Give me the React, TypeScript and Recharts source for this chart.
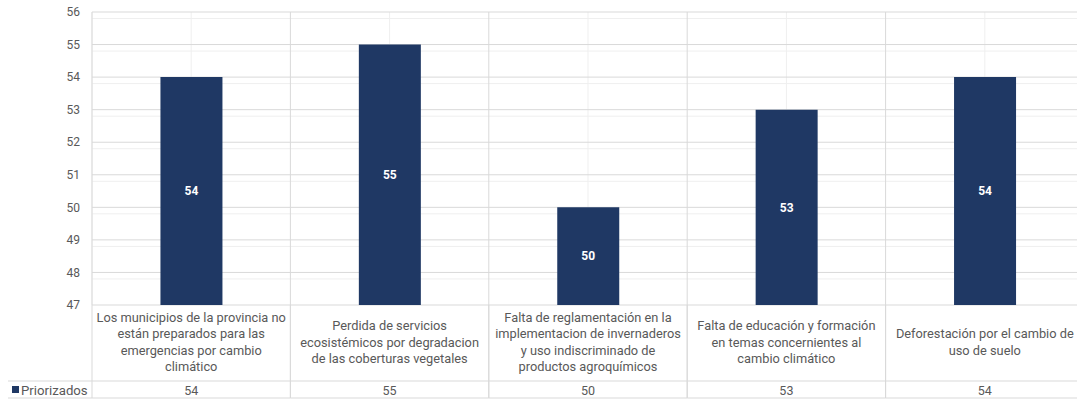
import React from "react";
import { BarChart, Bar, XAxis, YAxis, CartesianGrid, LabelList } from "recharts";

const categories = [
  "Los municipios de la provincia no están preparados para las emergencias por cambio climático",
  "Perdida de servicios ecosistémicos por degradacion de las coberturas vegetales",
  "Falta de reglamentación en la implementacion de invernaderos y uso indiscriminado de productos agroquímicos",
  "Falta de educación y formación en temas concernientes al cambio climático",
  "Deforestación por el cambio de uso de suelo",
];
const categoryLines = [
  ["Los municipios de la provincia no", "están preparados para las", "emergencias por cambio", "climático"],
  ["Perdida de servicios", "ecosistémicos por degradacion", "de las coberturas vegetales"],
  ["Falta de reglamentación en la", "implementacion de invernaderos", "y uso indiscriminado de", "productos agroquímicos"],
  ["Falta de educación y formación", "en temas concernientes al", "cambio climático"],
  ["Deforestación por el cambio de", "uso de suelo"],
];
const seriesName = "Priorizados";
const priorizados = [54, 55, 50, 53, 54];
const yTicks = [47, 48, 49, 50, 51, 52, 53, 54, 55, 56];
const minorTicks = [
  47.2, 47.4, 47.6, 47.8, 48.2, 48.4, 48.6, 48.8, 49.2, 49.4, 49.6, 49.8,
  50.2, 50.4, 50.6, 50.8, 51.2, 51.4, 51.6, 51.8, 52.2, 52.4, 52.6, 52.8,
  53.2, 53.4, 53.6, 53.8, 54.2, 54.4, 54.6, 54.8, 55.2, 55.4, 55.6, 55.8,
];

const data = categories.map((c, i) => ({ name: c, value: priorizados[i], idx: i }));

const FONT = "Roboto, 'Open Sans', sans-serif";
const TEXT = "#595959";
const BAR = "#1F3864";
const MAJOR = "#d9d9d9";
const MINOR = "#efefef";

const CHART_W = 1090;
const CHART_H = 401;
const MARGIN = { top: 12, right: 6, left: 0, bottom: 0 };
const Y_W = 92;
const X_H = 96;
const BAND = (CHART_W - MARGIN.left - MARGIN.right - Y_W) / categories.length;

const CategoryTick = (props: any) => {
  const { x, y, payload } = props;
  const i = payload.index;
  const lines = categoryLines[i];
  const lh = 16.5;
  const centerY = y + 37;
  const startY = centerY - ((lines.length - 1) * lh) / 2;
  const left = x - BAND / 2;
  const right = x + BAND / 2;
  const rowTop = y + 76;
  const rowBot = y + 93;
  return (
    <g>
      <line x1={left} y1={y} x2={left} y2={rowBot} stroke={MAJOR} />
      <line x1={right} y1={y} x2={right} y2={rowBot} stroke={MAJOR} />
      <line x1={left} y1={rowTop} x2={right} y2={rowTop} stroke={MAJOR} />
      <line x1={left} y1={rowBot} x2={right} y2={rowBot} stroke={MAJOR} />
      <text textAnchor="middle" fill={TEXT} fontFamily={FONT} fontSize={12.8}>
        {lines.map((l: string, k: number) => (
          <tspan key={k} x={x} y={startY + k * lh} dominantBaseline="central">
            {l}
          </tspan>
        ))}
      </text>
      <text x={x} y={(rowTop + rowBot) / 2 + 0.5} textAnchor="middle" dominantBaseline="central" fill={TEXT} fontFamily={FONT} fontSize={12.5}>
        {priorizados[i]}
      </text>
      {i === 0 && (
        <g>
          <line x1={8} y1={rowTop} x2={left} y2={rowTop} stroke={MAJOR} />
          <line x1={8} y1={rowBot} x2={left} y2={rowBot} stroke={MAJOR} />
          <rect x={12} y={(rowTop + rowBot) / 2 - 3.5} width={7} height={7} fill={BAR} />
          <text x={21} y={(rowTop + rowBot) / 2 + 0.5} dominantBaseline="central" fill={TEXT} fontFamily={FONT} fontSize={13.2}>
            {seriesName}
          </text>
        </g>
      )}
    </g>
  );
};

export default function App() {
  return (
    <div style={{ position: "absolute", left: 0, top: 0, width: 1077, height: 401, overflow: "hidden", background: "#fff" }}>
      <BarChart width={CHART_W} height={CHART_H} data={data} margin={MARGIN} barCategoryGap="34.5%">
        <CartesianGrid horizontalValues={minorTicks} vertical={false} stroke={MINOR} />
        <CartesianGrid horizontal={false} stroke={MINOR} />
        <CartesianGrid
          horizontalValues={yTicks}
          stroke={MAJOR}
          verticalCoordinatesGenerator={({ offset }: any) =>
            categories.map((_, i) => offset.left + i * (offset.width / categories.length)).concat([offset.left + offset.width])
          }
        />
        <XAxis
          dataKey="name"
          interval={0}
          height={X_H}
          axisLine={false}
          tickLine={false}
          tickSize={0}
          tickMargin={0}
          tick={<CategoryTick />}
        />
        <YAxis
          width={Y_W}
          domain={[47, 56]}
          ticks={yTicks}
          axisLine={false}
          tickLine={false}
          tickSize={0}
          tickMargin={12}
          tick={{ fill: TEXT, fontSize: 12, fontFamily: FONT }}
        />
        <Bar dataKey="value" fill={BAR} isAnimationActive={false}>
          <LabelList dataKey="value" position="center" fill="#ffffff" fontSize={12} fontWeight="bold" fontFamily={FONT} />
        </Bar>
      </BarChart>
    </div>
  );
}
